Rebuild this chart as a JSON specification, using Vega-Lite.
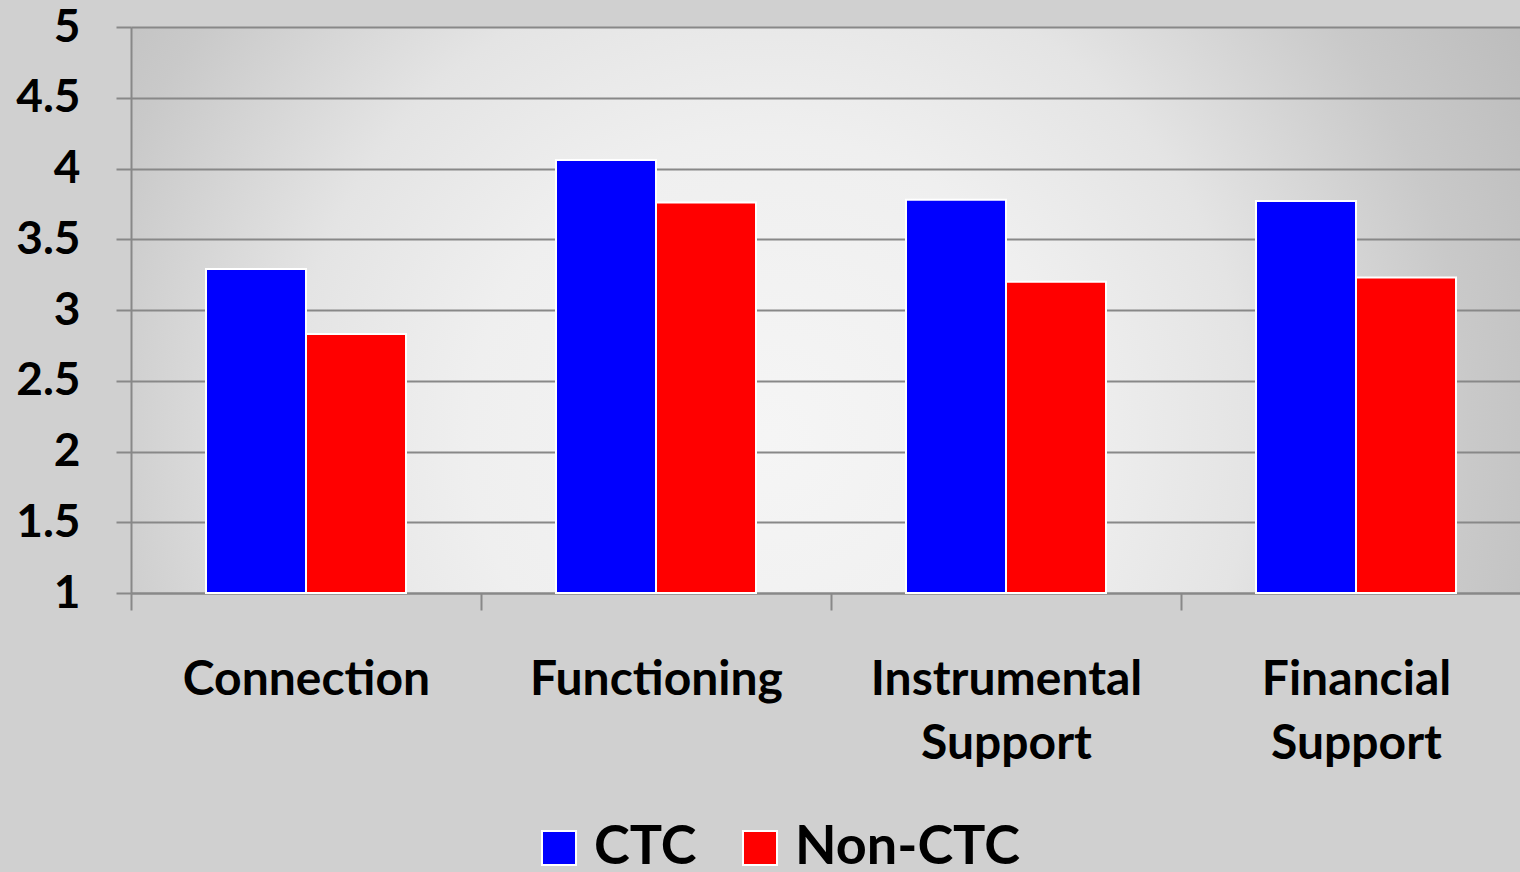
{
  "$schema": "https://vega.github.io/schema/vega-lite/v6.json",
  "width": 1400,
  "height": 566,
  "autosize": {"type": "none"},
  "padding": {"left": 131, "top": 27, "right": 0, "bottom": 279},
  "background": "#d0d0d0",
  "config": {
    "font": "Lato",
    "view": {
      "stroke": null,
      "fill": {
        "gradient": "radial",
        "x1": 0.456, "y1": 0.59, "r1": 0,
        "x2": 0.456, "y2": 0.59, "r2": 0.65,
        "stops": [
          {"offset": 0, "color": "#f5f5f5"},
          {"offset": 0.33, "color": "#efefef"},
          {"offset": 0.53, "color": "#e4e4e4"},
          {"offset": 0.77, "color": "#c9c9c9"},
          {"offset": 1, "color": "#b8b8b8"}
        ]
      }
    }
  },
  "data": {
    "values": [
      {"category": "Connection", "group": "CTC", "value": 3.29},
      {"category": "Connection", "group": "Non-CTC", "value": 2.83},
      {"category": "Functioning", "group": "CTC", "value": 4.06},
      {"category": "Functioning", "group": "Non-CTC", "value": 3.76},
      {"category": "Instrumental Support", "group": "CTC", "value": 3.78},
      {"category": "Instrumental Support", "group": "Non-CTC", "value": 3.2},
      {"category": "Financial Support", "group": "CTC", "value": 3.77},
      {"category": "Financial Support", "group": "Non-CTC", "value": 3.23}
    ]
  },
  "mark": {"type": "bar", "stroke": "white", "strokeWidth": 2},
  "encoding": {
    "x": {
      "field": "category",
      "type": "nominal",
      "sort": null,
      "title": null,
      "scale": {"paddingInner": 0, "paddingOuter": 0},
      "axis": {
        "tickBand": "extent",
        "domainColor": "#888888",
        "domainWidth": 2,
        "tickColor": "#888888",
        "tickWidth": 2,
        "tickSize": 17,
        "labelAngle": 0,
        "labelFontSize": 48,
        "labelFontWeight": "bold",
        "labelColor": "black",
        "labelPadding": 46,
        "labelLineHeight": 64,
        "labelLimit": 0,
        "labelExpr": "isString(datum.value) ? split(datum.value, ' ') : ''",
        "grid": false
      }
    },
    "xOffset": {
      "field": "group",
      "type": "nominal",
      "sort": ["CTC", "Non-CTC"],
      "scale": {"paddingInner": 0, "paddingOuter": 0.75}
    },
    "y": {
      "field": "value",
      "type": "quantitative",
      "title": null,
      "scale": {"domain": [1, 5], "zero": false, "nice": false},
      "axis": {
        "values": [1, 1.5, 2, 2.5, 3, 3.5, 4, 4.5, 5],
        "format": "~g",
        "domainColor": "#888888",
        "domainWidth": 2,
        "tickColor": "#888888",
        "tickWidth": 2,
        "tickSize": 15,
        "gridColor": "#888888",
        "gridWidth": 2,
        "labelFontSize": 46,
        "labelFontWeight": "bold",
        "labelColor": "black",
        "labelPadding": 36,
        "labelFlush": false,
        "labelOverlap": false
      }
    },
    "y2": {"datum": 1},
    "color": {
      "field": "group",
      "type": "nominal",
      "sort": ["CTC", "Non-CTC"],
      "scale": {"domain": ["CTC", "Non-CTC"], "range": ["#0000ff", "#ff0000"]},
      "legend": {
        "title": null,
        "orient": "none",
        "legendX": 401,
        "legendY": 794,
        "direction": "horizontal",
        "symbolType": "square",
        "symbolSize": 1156,
        "symbolStrokeColor": "white",
        "symbolStrokeWidth": 2,
        "symbolOpacity": 1,
        "labelFontSize": 54,
        "labelFontWeight": "bold",
        "labelColor": "black",
        "labelOffset": 8,
        "columnPadding": 36,
        "labelLimit": 0
      }
    }
  }
}
